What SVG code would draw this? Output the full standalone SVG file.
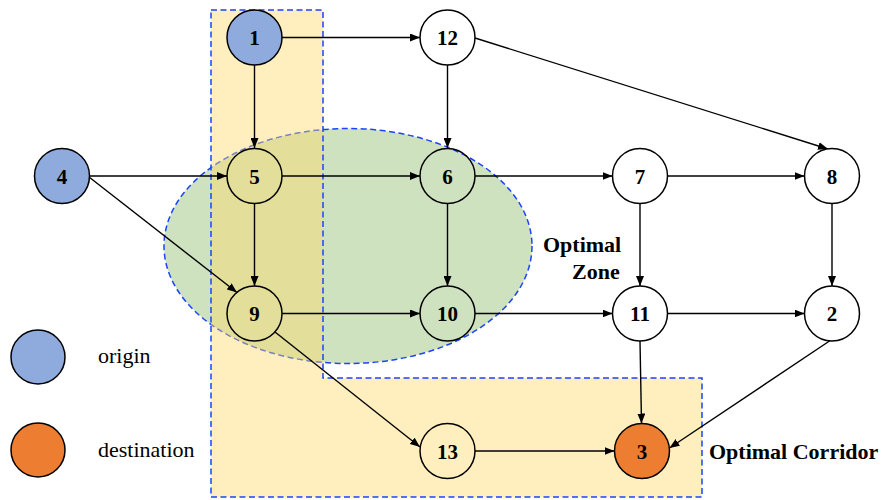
<svg xmlns="http://www.w3.org/2000/svg" width="882" height="500" viewBox="0 0 882 500">
<style>
.n{stroke:#000;stroke-width:1.5;fill:none}
.t{font-family:"Liberation Serif","Times New Roman",serif;font-weight:bold;font-size:21px;text-anchor:middle}
.b{font-family:"Liberation Serif","Times New Roman",serif;font-weight:bold;font-size:22px}
.l{font-family:"Liberation Serif","Times New Roman",serif;font-size:22px}
.e{stroke:#000;stroke-width:1.4;fill:none;marker-end:url(#ah)}
.d{fill:none;stroke:#1a44ff;stroke-width:1.5;stroke-dasharray:6 3.5}
</style>
<defs>
<marker id="ah" viewBox="0 0 10 8" refX="10" refY="4" markerWidth="10" markerHeight="8" markerUnits="userSpaceOnUse" orient="auto">
<path d="M0,0 L10,4 L0,8 Z" fill="#000"/>
</marker>
</defs>
<rect width="882" height="500" fill="#fff"/>
<g id="zone">
<ellipse cx="348" cy="246" rx="184" ry="117.5" fill="#cfe2bf"/>
<ellipse class="d" cx="348" cy="246" rx="184" ry="117.5"/>
</g>
<g id="corridor">
<path d="M211,10 H323 V378 H702 V497 H211 Z" fill="#ffd966" fill-opacity="0.42"/>
<path class="d" d="M211,10 H323 V378 H702 V497 H211 Z"/>
</g>
<g id="connectors">
<line class="e" x1="281.5" y1="37.5" x2="420" y2="37.5"/>
<line class="e" x1="254.5" y1="65" x2="254.5" y2="148"/>
<line class="e" x1="447.5" y1="65" x2="447.5" y2="148"/>
<line class="e" x1="475" y1="38" x2="828" y2="149"/>
<line class="e" x1="89.5" y1="176" x2="227" y2="176"/>
<line class="e" x1="89" y1="177" x2="237" y2="292.5"/>
<line class="e" x1="282" y1="176" x2="420" y2="176"/>
<line class="e" x1="254.5" y1="203.5" x2="254.5" y2="286"/>
<line class="e" x1="475" y1="176" x2="612.5" y2="176"/>
<line class="e" x1="447.5" y1="203.5" x2="447.5" y2="286"/>
<line class="e" x1="667.5" y1="176" x2="804.5" y2="176"/>
<line class="e" x1="640" y1="203.5" x2="640" y2="286"/>
<line class="e" x1="832" y1="203.5" x2="832" y2="286"/>
<line class="e" x1="282" y1="313.5" x2="420" y2="313.5"/>
<line class="e" x1="275" y1="332" x2="420" y2="447"/>
<line class="e" x1="475" y1="313.5" x2="612.5" y2="313.5"/>
<line class="e" x1="667.5" y1="313.5" x2="804.5" y2="313.5"/>
<line class="e" x1="640" y1="341" x2="641.5" y2="423.5"/>
<line class="e" x1="831" y1="340" x2="669.5" y2="448"/>
<line class="e" x1="475" y1="451" x2="614.5" y2="451"/>
</g>
<g id="n1"><circle class="n" cx="254.5" cy="37.5" r="27.5" style="fill:#8faadc"/><text class="t" x="254.5" y="45">1</text></g>
<g id="n12"><circle class="n" cx="447.5" cy="37.5" r="27.5" style="fill:#fff"/><text class="t" x="447.5" y="45">12</text></g>
<g id="n4"><circle class="n" cx="62" cy="176" r="27.5" style="fill:#8faadc"/><text class="t" x="62" y="183.5">4</text></g>
<g id="n5"><circle class="n" cx="254.5" cy="176" r="27.5"/><text class="t" x="254.5" y="183.5">5</text></g>
<g id="n6"><circle class="n" cx="447.5" cy="176" r="27.5"/><text class="t" x="447.5" y="183.5">6</text></g>
<g id="n7"><circle class="n" cx="640" cy="176" r="27.5" style="fill:#fff"/><text class="t" x="640" y="183.5">7</text></g>
<g id="n8"><circle class="n" cx="832" cy="176" r="27.5" style="fill:#fff"/><text class="t" x="832" y="183.5">8</text></g>
<g id="n9"><circle class="n" cx="254.5" cy="313.5" r="27.5"/><text class="t" x="254.5" y="321">9</text></g>
<g id="n10"><circle class="n" cx="447.5" cy="313.5" r="27.5"/><text class="t" x="447.5" y="321">10</text></g>
<g id="n11"><circle class="n" cx="640" cy="313.5" r="27.5" style="fill:#fff"/><text class="t" x="640" y="321">11</text></g>
<g id="n2"><circle class="n" cx="832" cy="313.5" r="27.5" style="fill:#fff"/><text class="t" x="832" y="321">2</text></g>
<g id="n13"><circle class="n" cx="447.5" cy="451" r="27.5"/><text class="t" x="447.5" y="458.5">13</text></g>
<g id="n3"><circle class="n" cx="642" cy="451" r="27.5" style="fill:#ed7d31"/><text class="t" x="642" y="458.5">3</text></g>
<g id="labels">
<text class="b" x="543" y="252">Optimal</text>
<text class="b" x="572" y="279">Zone</text>
<text class="b" x="709" y="459">Optimal Corridor</text>
</g>
<g id="legend">
<circle class="n" cx="38" cy="357" r="27" style="fill:#8faadc"/>
<text class="l" x="98" y="363">origin</text>
<circle class="n" cx="38" cy="450" r="27" style="fill:#ed7d31"/>
<text class="l" x="98" y="457">destination</text>
</g>
</svg>
